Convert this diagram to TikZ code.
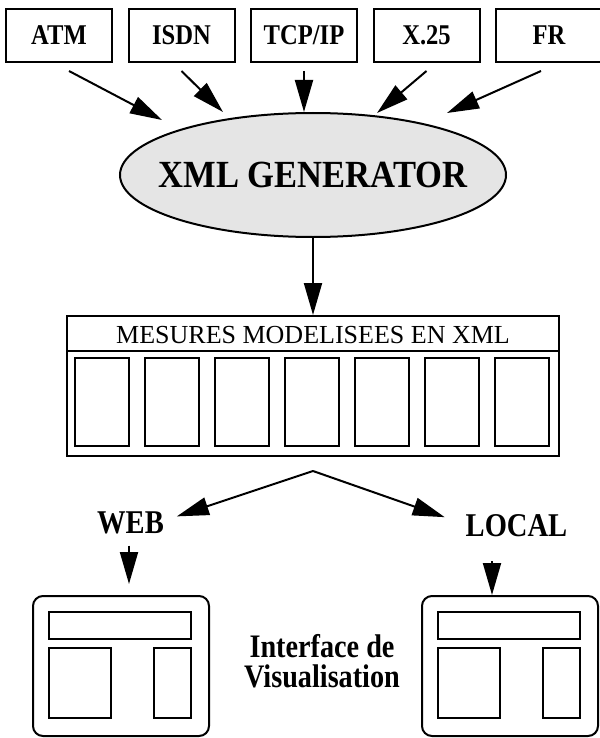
\documentclass[tikz,border=0pt]{standalone}
\usepackage{fontspec}
\setmainfont{Liberation Serif}
\newfontfamily\condfont[FakeStretch=0.86]{Liberation Serif}
\newfontfamily\genfont[FakeStretch=0.9]{Liberation Serif}
\usetikzlibrary{arrows.meta,calc,positioning,shapes.geometric}

\tikzset{
  proto/.style={draw, line width=1pt, minimum width=53pt, minimum height=26.5pt,
    inner sep=0pt, text height=9.4pt, text depth=0pt,
    font=\condfont\bfseries\fontsize{14.3}{16}\selectfont},
  gener/.style={ellipse, draw, line width=1pt, fill=black!10,
    minimum width=193pt, minimum height=62pt, inner sep=0pt},
  table/.style={draw, line width=1pt, minimum width=246pt, minimum height=70pt, inner sep=0pt},
  cell/.style={line width=0.8pt},
  tag/.style={inner sep=0pt, font=\condfont\bfseries\fontsize{16.6}{18}\selectfont},
  window/.style={draw, line width=1pt, rounded corners=5pt,
    minimum width=88pt, minimum height=70pt, inner sep=0pt},
  pane/.style={line width=1pt}
}

\begin{document}
\begin{tikzpicture}[x=0.5pt, y=-0.5pt, node distance=61.25pt, >={Triangle[length=16pt,width=9pt]}, line width=1pt]
    \useasboundingbox (0,0) rectangle (599,738);

    \node (atm) [proto] at (59,35.5) {ATM};
    \node (isdn) [proto, right of=atm] {ISDN};
    \node (tcp) [proto, right of=isdn] {TCP/IP};
    \node (x25) [proto, right of=tcp] {X.25};
    \node (fr) [proto, right of=x25] {FR};

    \node (gen) [gener] at (313,175) {};
    \node (gentext) at (gen) [inner sep=0pt, text height=12.5pt, text depth=0pt,
      font=\genfont\bfseries\fontsize{19.2}{22}\selectfont] {XML GENERATOR};

    \draw[->] ($(atm.south)+(10,8)$) -- ($(gen.center)+(-151,-55)$);
    \draw[->] ($(isdn.south)+(0,8)$) -- ($(gen.center)+(-90,-63)$);
    \draw[->] ($(tcp.south)+(0,8)$) -- ($(gen.center)+(-9,-63)$);
    \draw[->] ($(x25.south)+(0,8)$) -- ($(gen.center)+(64,-62)$);
    \draw[->] ($(fr.south)+(-8,8)$) -- ($(gen.center)+(134,-62)$);

    \node (meas) [table] at (313,386) {};
    \node (meastitle) at (313,334.5) [inner sep=0pt, text height=8.5pt, text depth=0pt,
      font=\fontsize{13}{14}\selectfont] {MESURES MODELISEES EN XML};
    \draw ($(meas.north west)+(0,36)$) -- ($(meas.north east)+(0,36)$);
    \foreach \i in {0,...,6}
      \draw[cell] ($(meas.north west)+(9+70*\i,43)$) rectangle +(54,88);

    \draw[->] (gen.south) -- (meas.north);

    \coordinate (fork) at ($(meas.south)+(0,14)$);
    \node (web) [tag, anchor=base] at (130.5,533) {WEB};
    \node (local) [tag, anchor=base] at (516.5,536) {LOCAL};
    \draw[->] (fork) -- ($(web.east)+(12,-6)$);
    \draw[->] (fork) -- ($(local.west)+(-20,-8)$);

    \node (webwin) [window] at (121,666) {};
    \node (localwin) [window] at (510,666) {};
    \foreach \w in {webwin,localwin} {
      \draw[pane] ($(\w.north west)+(17,17)$) rectangle ($(\w.north west)+(159,44)$);
      \draw[pane] ($(\w.north west)+(17,53)$) rectangle ($(\w.north west)+(79,123)$);
      \draw[pane] ($(\w.north west)+(122,53)$) rectangle ($(\w.north west)+(159,123)$);
    }

    \draw[->] ($(web.south)+(-1.5,11)$) -- ($(webwin.north)+(8,-11)$);
    \draw[->] ($(local.south)+(-24.5,24)$) -- ($(localwin.north)+(-18,0)$);

    \node (vis) at (322,661) [align=center, inner sep=0pt,
      font=\condfont\bfseries\fontsize{16.4}{15.2}\selectfont] {Interface de\\Visualisation};
\end{tikzpicture}
\end{document}
